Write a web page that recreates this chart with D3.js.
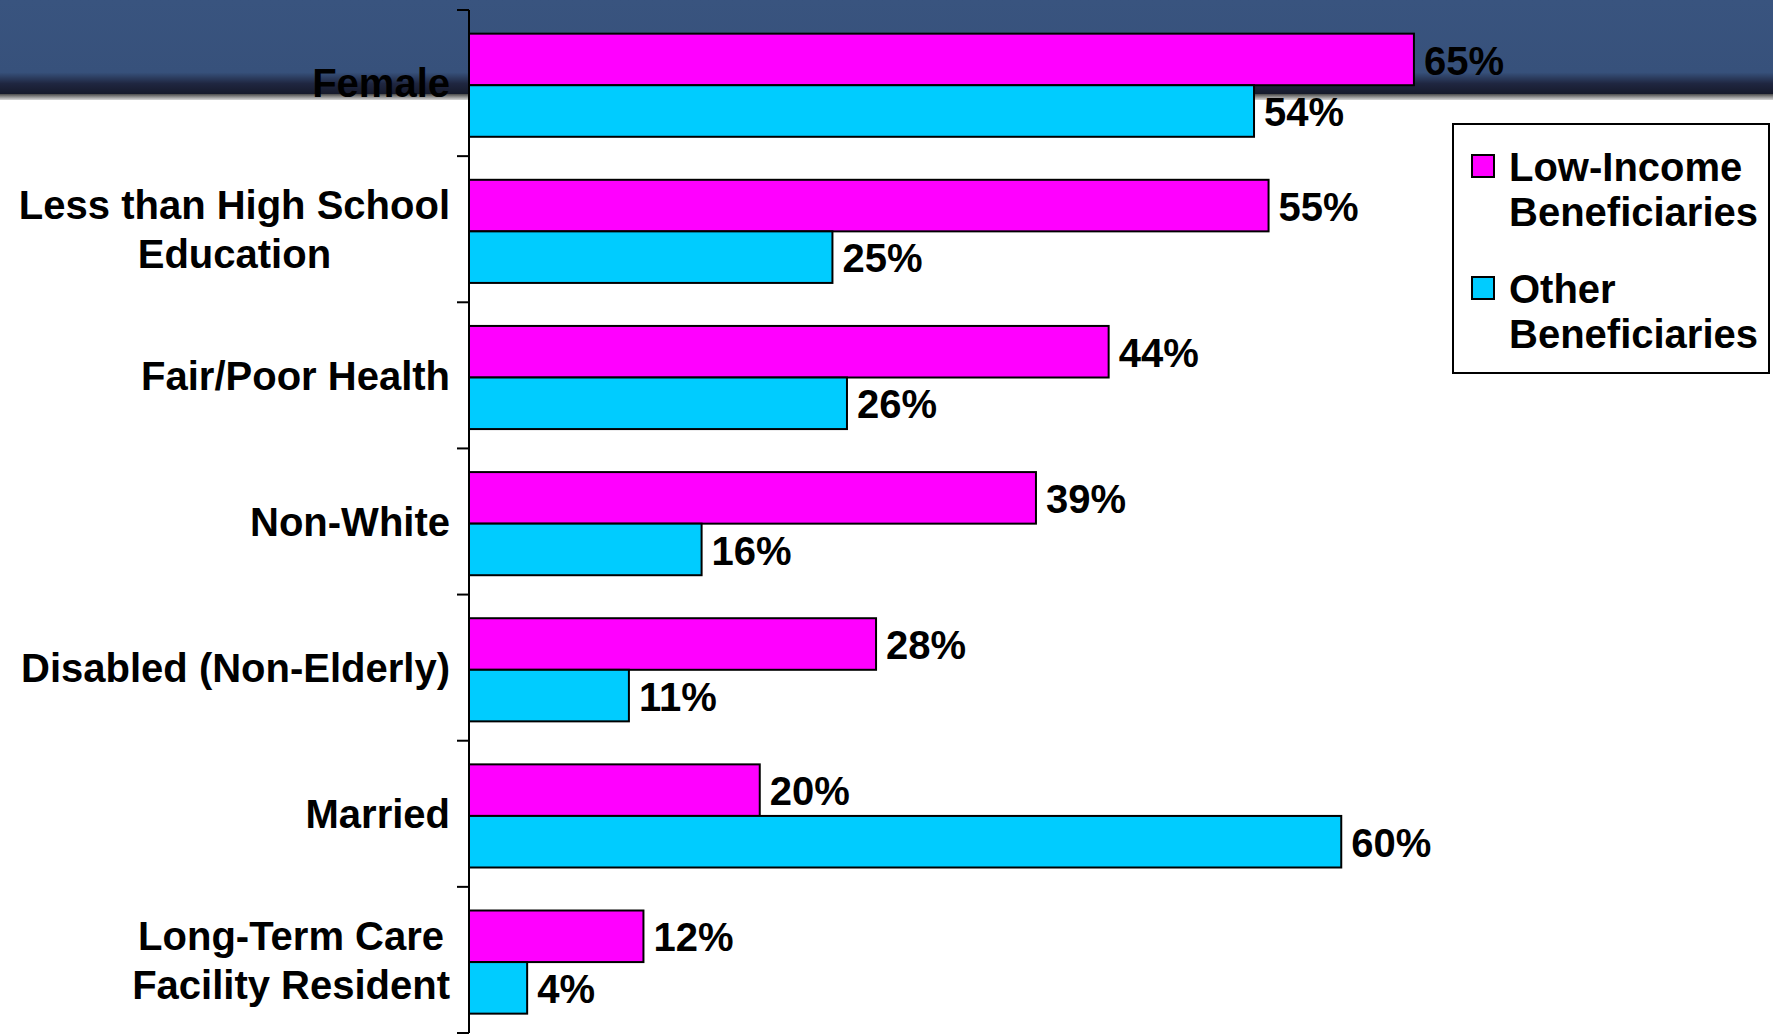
<!DOCTYPE html>
<html>
<head>
<meta charset="utf-8">
<script src="https://cdn.jsdelivr.net/npm/d3@7"></script>
<style>
  html, body { margin: 0; padding: 0; background: #ffffff; }
  svg { display: block; }
  text { font-family: "Liberation Sans", Arial, Helvetica, sans-serif; font-weight: bold; }
</style>
</head>
<body>
<svg id="chart" width="1773" height="1035"></svg>
<script>
// Characteristics of Medicare beneficiaries, share of each group (%)
const categories = [
  "Female",
  "Less than High School\nEducation",
  "Fair/Poor Health",
  "Non-White",
  "Disabled (Non-Elderly)",
  "Married",
  "Long-Term Care\nFacility Resident"
];
const seriesNames = ["Low-Income\nBeneficiaries", "Other\nBeneficiaries"];
const lowIncome = [65, 55, 44, 39, 28, 20, 12];
const other = [54, 25, 26, 16, 11, 60, 4];
const colors = ["#ff00ff", "#00ccff"];

const svg = d3.select("#chart");
const W = 1773, H = 1035;

// Slide header band with a darker shaded lower edge
const defs = svg.append("defs");
const g1 = defs.append("linearGradient").attr("id", "band").attr("x1", 0).attr("y1", 0).attr("x2", 0).attr("y2", 1);
[[0, "#39547f"], [0.77, "#37517b"], [0.89, "#1f2640"], [1, "#161a2b"]].forEach(([o, c]) =>
  g1.append("stop").attr("offset", o).attr("stop-color", c));
const g2 = defs.append("linearGradient").attr("id", "edge").attr("x1", 0).attr("y1", 0).attr("x2", 0).attr("y2", 1);
[[0, "#4a4a4a"], [1, "#d8d8d8"]].forEach(([o, c]) =>
  g2.append("stop").attr("offset", o).attr("stop-color", c));
svg.append("rect").attr("x", 0).attr("y", 0).attr("width", W).attr("height", 94).attr("fill", "url(#band)");
svg.append("rect").attr("x", 0).attr("y", 94).attr("width", W).attr("height", 6).attr("fill", "url(#edge)");

// Scales
const x = d3.scaleLinear().domain([0, 80]).range([469, 1632]);
const y = d3.scaleBand().domain(categories).range([10, 1033]).paddingInner(0).paddingOuter(0);
const sub = d3.scaleBand().domain([0, 1]).range([0, y.bandwidth()])
  .paddingInner(0).paddingOuter(0.417).align(0.55);

const rows = categories.map((c, i) => ({ cat: c, vals: [lowIncome[i], other[i]] }));

// Bars
const groups = svg.append("g").selectAll("g").data(rows).join("g")
  .attr("transform", d => `translate(0,${y(d.cat)})`);

groups.selectAll("rect").data(d => d.vals.map((v, k) => ({ v, k }))).join("rect")
  .attr("x", x(0))
  .attr("y", d => sub(d.k))
  .attr("width", d => x(d.v) - x(0))
  .attr("height", sub.bandwidth())
  .attr("fill", d => colors[d.k])
  .attr("stroke", "#000")
  .attr("stroke-width", 2);

// Value labels
groups.selectAll("text").data(d => d.vals.map((v, k) => ({ v, k }))).join("text")
  .attr("x", d => x(d.v) + 10)
  .attr("y", d => sub(d.k) + sub.bandwidth() / 2)
  .attr("dy", "0.38em")
  .attr("font-size", 40)
  .attr("fill", "#000")
  .text(d => d.v + "%");

// Category axis: vertical line with ticks at band boundaries
const axis = svg.append("g");
axis.append("line")
  .attr("x1", x(0)).attr("x2", x(0))
  .attr("y1", y.range()[0]).attr("y2", y.range()[1])
  .attr("stroke", "#000").attr("stroke-width", 2);
axis.selectAll("line.tick").data(d3.range(categories.length + 1)).join("line")
  .attr("class", "tick")
  .attr("x1", x(0) - 12).attr("x2", x(0))
  .attr("y1", i => y.range()[0] + i * y.step())
  .attr("y2", i => y.range()[0] + i * y.step())
  .attr("stroke", "#000").attr("stroke-width", 2);

// Category labels: block right-aligned at the axis, lines centred within the block
const lineH = 49;
const labelRight = 450;
axis.selectAll("text").data(categories).join("text")
  .attr("text-anchor", "middle")
  .attr("font-size", 40)
  .attr("fill", "#000")
  .each(function (c) {
    const lines = c.split("\n");
    const cy = y(c) + y.bandwidth() / 2;
    const t = d3.select(this);
    const spans = lines.map((ln, j) => t.append("tspan")
      .attr("y", cy + (j - (lines.length - 1) / 2) * lineH)
      .attr("dy", "0.36em")
      .text(ln));
    const maxW = d3.max(spans, s => s.node().getComputedTextLength());
    spans.forEach(s => s.attr("x", labelRight - maxW / 2));
  });

// Legend
const legend = svg.append("g");
legend.append("rect")
  .attr("x", 1453).attr("y", 124).attr("width", 316).attr("height", 249)
  .attr("fill", "#fff").attr("stroke", "#000").attr("stroke-width", 2);
const items = legend.selectAll("g").data(seriesNames).join("g")
  .attr("transform", (d, i) => `translate(1472,${155 + i * 122})`);
items.append("rect")
  .attr("width", 22).attr("height", 22)
  .attr("fill", (d, i) => colors[i])
  .attr("stroke", "#000").attr("stroke-width", 2);
items.append("text")
  .attr("font-size", 40)
  .attr("fill", "#000")
  .each(function (d) {
    const t = d3.select(this);
    d.split("\n").forEach((ln, j) => {
      t.append("tspan").attr("x", 37).attr("y", 26 + j * 45).text(ln);
    });
  });
</script>
</body>
</html>
